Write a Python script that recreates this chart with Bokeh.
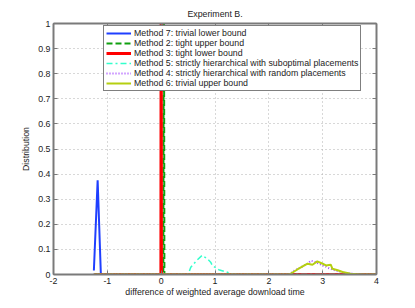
from bokeh.plotting import figure
from bokeh.models import FixedTicker, LinearAxis, Legend, LegendItem, Range1d
from bokeh.embed import file_html
from bokeh.resources import INLINE

title_text = "Experiment B."
xlabel = "difference of weighted average download time"
ylabel = "Distribution"

x_ticks = [-2, -1, 0, 1, 2, 3, 4]
x_tick_labels = ["-2", "-1", "0", "1", "2", "3", "4"]
y_ticks = [0, 0.1, 0.2, 0.3, 0.4, 0.5, 0.6, 0.7, 0.8, 0.9, 1.0]
y_tick_labels = ["0", "0.1", "0.2", "0.3", "0.4", "0.5", "0.6", "0.7", "0.8", "0.9", "1"]

# Method 7: trivial lower bound
m7_x = [-1.25, -1.18, -1.12]
m7_y = [0.016, 0.375, 0.0]
# Method 2: tight upper bound
m2_x = [-1.25, 0.04, 0.05, 0.06, 4.0]
m2_y = [0.0, 0.0, 1.5, 0.0, 0.0]
# Method 3: tight lower bound
m3_x = [-1.25, -0.005, 0.0, 0.005, 4.0]
m3_y = [0.0, 0.0, 1.5, 0.0, 0.0]
# Method 5: strictly hierarchical with suboptimal placements
m5_x = [-1.25, 0.5, 0.55, 0.66, 0.76, 0.86, 0.92, 0.95, 1.07, 1.26, 1.32, 4.0]
m5_y = [0.0, 0.0, 0.029, 0.056, 0.076, 0.062, 0.049, 0.036, 0.019, 0.007, 0.0, 0.0]
# Method 4: strictly hierarchical with random placements
m4_x = [-1.25, 2.38, 2.47, 2.59, 2.72, 2.78, 2.84, 2.93, 3.03, 3.12, 3.25, 3.4, 3.6, 3.7, 4.0]
m4_y = [0.0, 0.0, 0.015, 0.028, 0.043, 0.055, 0.052, 0.043, 0.034, 0.025, 0.015, 0.007, 0.002, 0.0, 0.0]
# Method 6: trivial upper bound
m6_x = [-1.25, 2.38, 2.53, 2.66, 2.72, 2.81, 2.9, 3.0, 3.06, 3.15, 3.18, 3.28, 3.37, 3.52, 3.7, 4.0]
m6_y = [0.0, 0.0, 0.02, 0.036, 0.043, 0.039, 0.052, 0.043, 0.036, 0.039, 0.023, 0.017, 0.01, 0.003, 0.0, 0.0]

FONT = "Liberation Sans"
FS = "8.8px"
AX = "#7a7a7a"

p = figure(width=407, height=300, output_backend="svg", toolbar_location=None,
           x_range=Range1d(-2, 4), y_range=Range1d(0, 1),
           min_border_left=53, min_border_right=31, min_border_top=23, min_border_bottom=26)

p.title.text = title_text
p.title.align = "center"
p.title.vertical_align = "top"
p.title.text_font = FONT
p.title.text_font_size = FS
p.title.text_font_style = "normal"
p.title.text_color = "#222222"
p.title.standoff = 6
p.title.offset = 0

p.outline_line_color = AX
p.outline_line_width = 1

for ax in (p.xaxis[0], p.yaxis[0]):
    ax.major_label_text_font = FONT
    ax.major_label_text_font_size = FS
    ax.axis_label_text_font = FONT
    ax.axis_label_text_font_size = FS
    ax.axis_label_text_font_style = "normal"
    ax.axis_label_text_color = "#222222"
    ax.major_tick_in = 4
    ax.major_tick_out = 0
    ax.minor_tick_line_color = None
    ax.axis_line_color = AX
    ax.axis_line_width = 2
    ax.major_tick_line_color = AX
    ax.major_label_text_color = "#222222"

p.xaxis[0].ticker = FixedTicker(ticks=x_ticks)
p.xaxis[0].major_label_overrides = dict(zip(x_ticks, x_tick_labels))
p.xaxis[0].axis_label = xlabel
p.xaxis[0].axis_label_standoff = 0
p.xaxis[0].major_label_standoff = 3
p.yaxis[0].ticker = FixedTicker(ticks=y_ticks)
p.yaxis[0].major_label_overrides = dict(zip(y_ticks, y_tick_labels))
p.yaxis[0].axis_label = ylabel
p.yaxis[0].axis_label_standoff = 4
p.yaxis[0].major_label_standoff = 3

for loc, ticks in (("right", y_ticks), ("above", x_ticks)):
    ax = LinearAxis(ticker=FixedTicker(ticks=ticks))
    ax.major_label_text_color = None
    ax.major_label_text_font_size = "1px"
    ax.major_label_standoff = 0
    ax.major_tick_in = 4
    ax.major_tick_out = 0
    ax.minor_tick_line_color = None
    ax.axis_line_color = AX
    ax.axis_line_width = 2
    ax.major_tick_line_color = AX
    p.add_layout(ax, loc)

p.xgrid.ticker = FixedTicker(ticks=x_ticks)
p.ygrid.ticker = FixedTicker(ticks=y_ticks)
for g in (p.xgrid[0], p.ygrid[0]):
    g.grid_line_color = "#b0b0b0"
    g.grid_line_dash = "1 3"
    g.grid_line_width = 1

r7 = p.line(m7_x, m7_y, line_color="#1f3fff", line_width=2)
r2 = p.line(m2_x, m2_y, line_color="#10a010", line_width=2, line_dash="6 3")
r3 = p.line(m3_x, m3_y, line_color="#ff0000", line_width=3)
r5 = p.line(m5_x, m5_y, line_color="#33ffcc", line_width=1.5, line_dash="6 3 2 3")
r4 = p.line(m4_x, m4_y, line_color="#a64dff", line_width=2, line_dash="1 2")
r6 = p.line(m6_x, m6_y, line_color="#b5cf10", line_width=2)

legend = Legend(items=[
    LegendItem(label="Method 7: trivial lower bound", renderers=[r7]),
    LegendItem(label="Method 2: tight upper bound", renderers=[r2]),
    LegendItem(label="Method 3: tight lower bound", renderers=[r3]),
    LegendItem(label="Method 5: strictly hierarchical with suboptimal placements", renderers=[r5]),
    LegendItem(label="Method 4: strictly hierarchical with random placements", renderers=[r4]),
    LegendItem(label="Method 6: trivial upper bound", renderers=[r6]),
], location=(50, 183))
legend.label_text_font = FONT
legend.label_text_font_size = FS
legend.label_text_color = "#222222"
legend.label_height = 10
legend.glyph_height = 10
legend.glyph_width = 25
legend.label_standoff = 3
legend.spacing = 0
legend.padding = 2
legend.margin = 0
legend.border_line_color = "#000000"
legend.border_line_width = 1
legend.background_fill_color = "white"
legend.background_fill_alpha = 1
p.add_layout(legend, "center")

open("out.html", "w").write(file_html(p, INLINE))
